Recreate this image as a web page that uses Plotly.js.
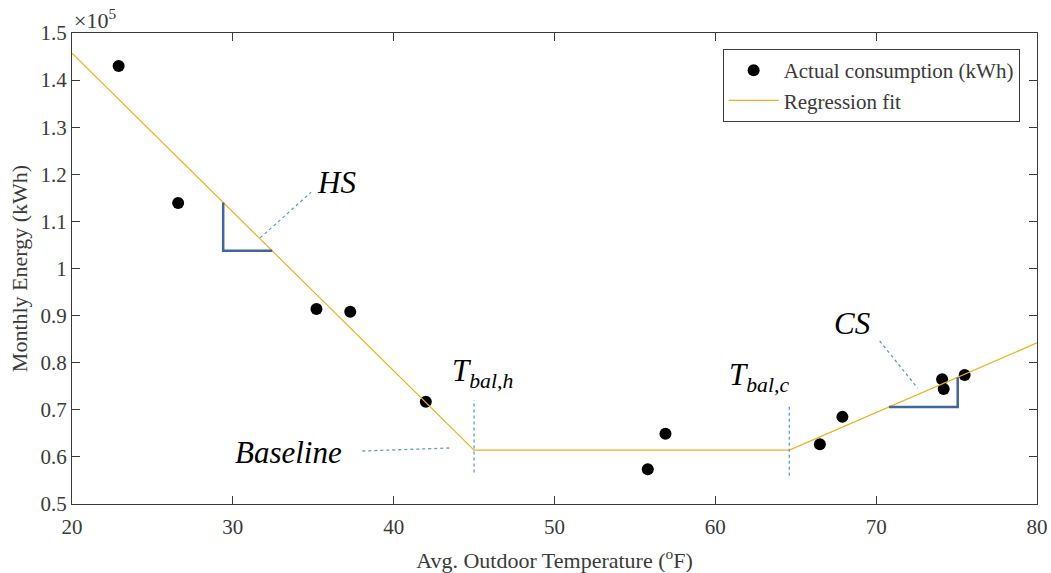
<!DOCTYPE html>
<html>
<head>
<meta charset="utf-8">
<script src="https://cdn.plot.ly/plotly-3.0.1.min.js"></script>
<style>
  html, body { margin: 0; padding: 0; background: #fff; }
  #chart { width: 1051px; height: 573px; }
</style>
</head>
<body>
<div id="chart"></div>
<script>
// Monthly consumption vs. average outdoor temperature
const tempF = [22.9, 26.6, 35.2, 37.3, 42.0, 55.8, 56.9, 66.5, 67.9, 74.1, 74.2, 75.5];
const energyKWh = [143000, 113900, 91400, 90800, 71700, 57400, 64900, 62700, 68500, 76500, 74400, 77400];

// Piecewise-linear (change-point) regression: heating leg, baseline, cooling leg
const fitTemp = [20, 45, 64.6, 80];
const fitKWh = [145700, 61450, 61450, 84200];

// Axis ticks
const xTicks = [20, 30, 40, 50, 60, 70, 80];
const yTicks = [50000, 60000, 70000, 80000, 90000, 100000, 110000, 120000, 130000, 140000, 150000];
const yTickText = ['0.5', '0.6', '0.7', '0.8', '0.9', '1', '1.1', '1.2', '1.3', '1.4', '1.5'];

// evaluate the fitted line at temperature t
function fitAt(t) {
  for (let i = 0; i < fitTemp.length - 1; i++) {
    if (t >= fitTemp[i] && t <= fitTemp[i + 1]) {
      const f = (t - fitTemp[i]) / (fitTemp[i + 1] - fitTemp[i]);
      return fitKWh[i] + f * (fitKWh[i + 1] - fitKWh[i]);
    }
  }
  return NaN;
}

const serif = '"Liberation Serif", "Times New Roman", serif';
const axisColor = '#3a3a3a';
const slopeColor = '#41679a';
const leaderColor = '#5b9bd5';

const traces = [
  {
    x: tempF, y: energyKWh, type: 'scatter', mode: 'markers',
    name: 'Actual consumption (kWh)',
    marker: { color: '#000', size: 12 }
  },
  {
    x: fitTemp, y: fitKWh, type: 'scatter', mode: 'lines',
    name: 'Regression fit',
    line: { color: '#EDB120', width: 1.2 }
  }
];

// slope triangles sitting on the fitted legs
const hsX0 = 29.4, hsX1 = 32.45;
const csX0 = 70.8, csX1 = 75.07;
const tbalH = fitTemp[1], tbalC = fitTemp[2];

const shapes = [
  // heating slope
  { type: 'path', path: `M ${hsX0} ${fitAt(hsX0)} L ${hsX0} ${fitAt(hsX1)} L ${hsX1} ${fitAt(hsX1)}`,
    line: { color: slopeColor, width: 2.5 } },
  // cooling slope
  { type: 'path', path: `M ${csX0} ${fitAt(csX0)} L ${csX1} ${fitAt(csX0)} L ${csX1} ${fitAt(csX1)}`,
    line: { color: slopeColor, width: 2.5 } },
  // balance point markers
  { type: 'line', x0: tbalH, x1: tbalH, y0: 56700, y1: 72100, line: { color: leaderColor, width: 1.3, dash: 'dot' } },
  { type: 'line', x0: tbalC, x1: tbalC, y0: 56000, y1: 71200, line: { color: leaderColor, width: 1.3, dash: 'dot' } },
  // leader lines
  { type: 'line', x0: 31.7, y0: 106500, x1: 34.87, y1: 116200, line: { color: leaderColor, width: 1.3, dash: 'dot' } },
  { type: 'line', x0: 38.05, y0: 61250, x1: 43.58, y1: 61900, line: { color: leaderColor, width: 1.3, dash: 'dot' } },
  { type: 'line', x0: 70.22, y0: 84600, x1: 72.58, y1: 74600, line: { color: leaderColor, width: 1.3, dash: 'dot' } }
];

const labelFont = { family: serif, size: 31, color: '#000' };
const annotations = [
  { x: 35.1, y: 118300, text: '<i>HS</i>', showarrow: false, xanchor: 'left', yanchor: 'middle', font: labelFont },
  { x: 36.9, y: 61000, text: '<i>Baseline</i>', showarrow: false, xanchor: 'right', yanchor: 'middle', font: labelFont },
  { x: 45.5, y: 77800, text: '<i>T<sub>bal,h</sub></i>', showarrow: false, xanchor: 'center', yanchor: 'middle', font: labelFont },
  { x: 64.7, y: 77000, text: '<i>T<sub>bal,c</sub></i>', showarrow: false, xanchor: 'right', yanchor: 'middle', font: labelFont },
  { x: 68.5, y: 88300, text: '<i>CS</i>', showarrow: false, xanchor: 'center', yanchor: 'middle', font: labelFont },
  // axis exponent
  { xref: 'paper', yref: 'paper', x: 0, y: 1.0, xanchor: 'left', yanchor: 'bottom', yshift: -2,
    text: '\u00d710<sup>5</sup>', showarrow: false, font: { family: serif, size: 22, color: axisColor } }
];

const axisCommon = {
  showline: true, linecolor: axisColor, linewidth: 1, mirror: 'ticks',
  ticks: 'inside', ticklen: 8, tickwidth: 1, tickcolor: axisColor,
  showgrid: false, zeroline: false,
  tickfont: { family: serif, size: 21, color: axisColor }
};

const layout = {
  width: 1051, height: 573,
  margin: { l: 72, r: 14, t: 33, b: 69 },
  paper_bgcolor: '#fff', plot_bgcolor: '#fff',
  showlegend: true,
  xaxis: Object.assign({}, axisCommon, {
    range: [20, 80], tickmode: 'array', tickvals: xTicks, ticklabelstandoff: 4,
    title: { text: 'Avg. Outdoor Temperature (<sup>o</sup>F)', font: { family: serif, size: 22, color: axisColor }, standoff: 14 }
  }),
  yaxis: Object.assign({}, axisCommon, {
    range: [50000, 150000], tickmode: 'array', tickvals: yTicks, ticktext: yTickText,
    title: { text: 'Monthly Energy (kWh)', font: { family: serif, size: 22, color: axisColor }, standoff: 6 }
  }),
  legend: {
    x: 0.982, y: 0.966, xanchor: 'right', yanchor: 'top',
    bgcolor: '#fff', bordercolor: axisColor, borderwidth: 1,
    font: { family: serif, size: 21, color: axisColor },
    itemwidth: 50, tracegroupgap: 0
  },
  shapes: shapes,
  annotations: annotations
};

Plotly.newPlot('chart', traces, layout, { displayModeBar: false, staticPlot: true });
</script>
</body>
</html>
